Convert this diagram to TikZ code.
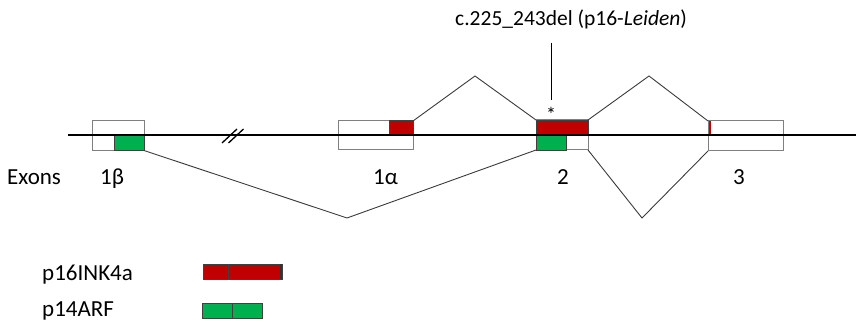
\documentclass[tikz,border=0pt]{standalone}
\usepackage{fontspec}
\setmainfont{Carlito}
\definecolor{exred}{HTML}{C00000}
\definecolor{exgreen}{HTML}{00B050}
\definecolor{boxgray}{HTML}{808080}
\definecolor{splice}{HTML}{3A3A3A}
\tikzset{
  exonbox/.style={draw=boxgray, line width=1pt, inner sep=0pt, outer sep=0pt},
  redpart/.style={fill=exred, draw=black!75, line width=0.7pt},
  greenpart/.style={fill=exgreen, draw=black!75, line width=0.7pt},
  spliceline/.style={draw=splice, line width=0.9pt},
  gene/.style={line width=2pt, black},
  lbl/.style={font=\fontsize{23}{27}\selectfont, inner sep=0pt, anchor=base west},
}
\begin{document}
\begin{tikzpicture}[x=1pt,y=-1pt]
\useasboundingbox (0,0) rectangle (856,323);

% exon outlines
\node[exonbox, minimum width=52pt, minimum height=30pt] (e1b) at (118,135.5) {};
\node[exonbox, minimum width=75pt, minimum height=29pt] (e1a) at (375.5,135.5) {};
\node[exonbox, minimum width=52pt, minimum height=30pt] (e2) at (562,135) {};
\node[exonbox, minimum width=75pt, minimum height=30pt] (e3) at (745.5,136) {};

% coding parts
\draw[greenpart] (114,135) rectangle (144,150.5);
\draw[redpart] (389,120.5) rectangle (413,135);
\draw[redpart] (536,120) rectangle (588,135);
\draw[greenpart] (536,135) rectangle (566,150);
\fill[exred] (708.5,121) rectangle (711,135);

% genomic line with break mark
\coordinate (gstart) at (68,135);
\coordinate (gend) at (856,135);
\draw[gene] (gstart) -- (gend);
\draw[line width=1.3pt] (222,143) -- (237,129);
\draw[line width=1.3pt] (228.5,143) -- (243.5,129);

% splicing
\coordinate (p1) at (475,76);
\coordinate (p2) at (649,76);
\coordinate (v1) at (347,218);
\coordinate (v2) at (642,218);
\draw[spliceline] (e1a.north east) -- (p1) -- (e2.north west);
\draw[spliceline] (e2.north east) -- (p2) -- (e3.north west);
\draw[spliceline] (e1b.south east) -- (v1) -- (e2.south west);
\draw[spliceline] (e2.south east) -- (v2) -- (e3.south west);

% mutation mark
\node[lbl, font=\fontsize{21.5}{26}\selectfont] (mut) at (455,26) {c.225\_243del (p16-\textit{Leiden})};
\node[font=\fontsize{20}{22}\selectfont, inner sep=0pt] (star) at (551,114) {*};
\coordinate (mtop) at (551,43);
\coordinate (mbot) at (551,100);
\draw[line width=1pt] (mtop) -- (mbot);

% exon labels
\node[lbl] (exons) at (7,185) {Exons};
\node[lbl] (l1b) at (100,185) {1β};
\node[lbl] (l1a) at (373,185) {1α};
\node[lbl] (l2) at (557,185) {2};
\node[lbl] (l3) at (733,185) {3};

% legend
\node[lbl] (k16) at (42,280) {p16INK4a};
\node[lbl] (k14) at (42,316.5) {p14ARF};
\draw[redpart] (203,264) rectangle (282.5,279);
\draw[black!75, line width=0.7pt] (228,264) -- (228,279);
\draw[black!80, line width=1.2pt] (281,264) -- (281,279);
\draw[greenpart] (202,303) rectangle (262,318.5);
\draw[black!75, line width=0.7pt] (232,303) -- (232,318.5);
\end{tikzpicture}
\end{document}
